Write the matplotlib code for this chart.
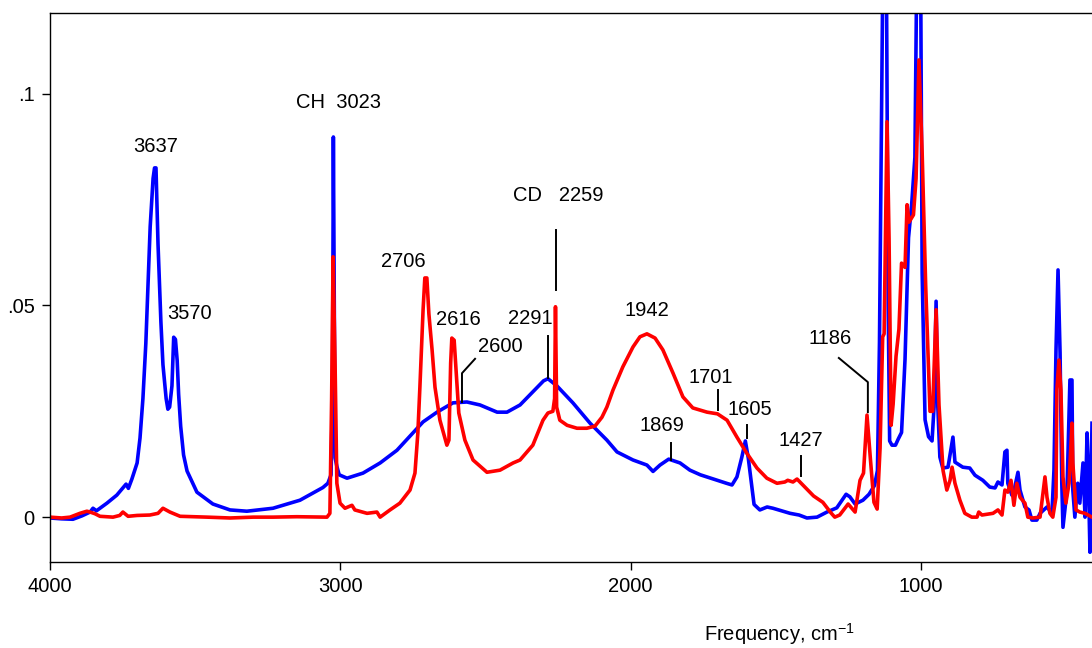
import matplotlib
matplotlib.use('Agg')
import matplotlib.pyplot as plt

# blue spectrum (frequency in cm-1, absorbance)
blue_freq = [4000, 3960, 3921, 3890, 3862, 3852, 3840, 3804, 3770, 3749, 3738, 3730, 3718, 3700,
             3690, 3680, 3670, 3662, 3655, 3645, 3640, 3635, 3628, 3618, 3611, 3600, 3594, 3588,
             3580, 3574, 3568, 3562, 3557, 3550, 3540, 3528, 3494, 3439, 3380, 3322, 3232, 3139,
             3094, 3060, 3043, 3032, 3027, 3024, 3021, 3018, 3012, 3004, 2977, 2922, 2863, 2805,
             2750, 2715, 2667, 2612, 2564, 2519, 2460, 2426, 2381, 2337, 2300, 2285, 2254, 2199,
             2140, 2082, 2047, 1992, 1944, 1923, 1899, 1869, 1830, 1796, 1760, 1737, 1715, 1693,
             1670, 1651, 1634, 1617, 1605, 1595, 1586, 1575, 1555, 1530, 1510, 1480, 1451, 1420,
             1393, 1358, 1324, 1290, 1258, 1245, 1227, 1200, 1179, 1160, 1150, 1143, 1136, 1130,
             1120, 1113, 1108, 1100, 1088, 1078, 1067, 1055, 1043, 1032, 1021, 1013, 1002, 996,
             986, 974, 962, 955, 948, 942, 935, 925, 907, 890, 883, 856, 832, 814, 787, 763, 745,
             735, 721, 711, 704, 701, 687, 677, 666, 659, 642, 628, 618, 601, 590, 566, 549, 542,
             535, 528, 521, 515, 511, 497, 487, 480, 477, 470, 460, 453, 442, 435, 428, 425, 418, 411]
blue_abs = [-0.0002, -0.0004, -0.0005, 0.0003, 0.0012, 0.0021, 0.0015, 0.0033, 0.0052, 0.0069,
            0.0078, 0.0068, 0.0090, 0.0128, 0.0187, 0.0280, 0.0410, 0.0558, 0.0686, 0.0800, 0.0825,
            0.0825, 0.0645, 0.0460, 0.0360, 0.0280, 0.0255, 0.0260, 0.0310, 0.0425, 0.0420, 0.0370,
            0.0290, 0.0215, 0.0147, 0.0109, 0.0059, 0.0031, 0.0017, 0.0014, 0.0021, 0.0040, 0.0057,
            0.0070, 0.0080, 0.0100, 0.0300, 0.0898, 0.0500, 0.0140, 0.0120, 0.0100, 0.0092, 0.0104,
            0.0128, 0.0158, 0.0199, 0.0225, 0.0248, 0.0270, 0.0272, 0.0265, 0.0248, 0.0248, 0.0265,
            0.0296, 0.0322, 0.0327, 0.0310, 0.0270, 0.0222, 0.0182, 0.0154, 0.0135, 0.0123, 0.0108,
            0.0123, 0.0137, 0.0128, 0.0111, 0.0100, 0.0095, 0.0090, 0.0085, 0.0080, 0.0076, 0.0095,
            0.0142, 0.0180, 0.0140, 0.0090, 0.0030, 0.0017, 0.0024, 0.0021, 0.0015, 0.0009, 0.0005,
            -0.0002, 0.0000, 0.0012, 0.0022, 0.0054, 0.0048, 0.0031, 0.0040, 0.0054, 0.0075, 0.0110,
            0.0414, 0.0940, 0.1400, 0.1400, 0.0500, 0.0180, 0.0170, 0.0170, 0.0185, 0.0200, 0.0373,
            0.0660, 0.0740, 0.0850, 0.1400, 0.1400, 0.0577, 0.0230, 0.0190, 0.0180, 0.0260, 0.0510,
            0.0260, 0.0142, 0.0116, 0.0118, 0.0189, 0.0130, 0.0118, 0.0116, 0.0099, 0.0087, 0.0071,
            0.0069, 0.0083, 0.0076, 0.0154, 0.0158, 0.0080, 0.0052, 0.0071, 0.0106, 0.0064, 0.0024,
            0.0017, -0.0007, -0.0007, 0.0009, 0.0024, 0.0009, 0.0111, 0.0395, 0.0584, 0.0388, 0.0080,
            -0.0024, 0.0064, 0.0324, 0.0324, 0.0064, 0.0000, 0.0080, 0.0033, 0.0128, 0.0000, 0.0199,
            0.0142, -0.0083, 0.0222]

# red spectrum (frequency in cm-1, absorbance)
red_freq = [4000, 3960, 3931, 3897, 3873, 3862, 3845, 3828, 3783, 3760, 3749, 3731, 3700, 3656,
            3628, 3611, 3600, 3587, 3552, 3459, 3380, 3300, 3232, 3150, 3046, 3036, 3030, 3025,
            3018, 3012, 3001, 2984, 2960, 2950, 2908, 2874, 2863, 2829, 2795, 2760, 2743, 2733,
            2726, 2715, 2709, 2702, 2695, 2684, 2674, 2657, 2633, 2626, 2620, 2616, 2608, 2600,
            2592, 2571, 2543, 2495, 2450, 2405, 2381, 2337, 2302, 2285, 2268, 2262, 2259, 2255,
            2244, 2219, 2185, 2151, 2123, 2099, 2082, 2061, 2027, 1992, 1968, 1944, 1916, 1889,
            1854, 1820, 1786, 1737, 1701, 1668, 1634, 1600, 1565, 1531, 1496, 1469, 1459, 1441,
            1427, 1400, 1370, 1338, 1310, 1297, 1280, 1251, 1227, 1210, 1198, 1186, 1174, 1162,
            1151, 1141, 1132, 1127, 1117, 1110, 1103, 1096, 1086, 1076, 1067, 1055, 1048, 1041,
            1026, 1017, 1007, 996, 984, 969, 960, 948, 938, 924, 911, 900, 893, 883, 866, 849, 825,
            807, 801, 790, 752, 735, 721, 711, 701, 690, 680, 670, 659, 642, 632, 615, 590, 584,
            573, 566, 556, 546, 535, 532, 525, 518, 511, 501, 490, 480, 477, 466, 453, 435, 411]
red_abs = [0.0000, -0.0002, 0.0000, 0.0009, 0.0014, 0.0012, 0.0008, 0.0002, 0.0000, 0.0004, 0.0012,
           0.0002, 0.0004, 0.0005, 0.0009, 0.0021, 0.0017, 0.0012, 0.0002, 0.0000, -0.0002, 0.0000,
           0.0000, 0.0001, 0.0000, 0.0009, 0.0280, 0.0615, 0.0355, 0.0080, 0.0033, 0.0021, 0.0028,
           0.0017, 0.0009, 0.0012, 0.0000, 0.0017, 0.0033, 0.0064, 0.0104, 0.0199, 0.0307, 0.0490,
           0.0565, 0.0565, 0.0480, 0.0395, 0.0307, 0.0229, 0.0170, 0.0182, 0.0364, 0.0423, 0.0418,
           0.0331, 0.0246, 0.0182, 0.0135, 0.0106, 0.0111, 0.0128, 0.0135, 0.0170, 0.0229, 0.0246,
           0.0250, 0.0280, 0.0497, 0.0260, 0.0229, 0.0217, 0.0210, 0.0210, 0.0215, 0.0236, 0.0260,
           0.0300, 0.0355, 0.0402, 0.0426, 0.0433, 0.0423, 0.0395, 0.0340, 0.0284, 0.0258, 0.0248,
           0.0244, 0.0229, 0.0189, 0.0151, 0.0116, 0.0092, 0.0080, 0.0083, 0.0087, 0.0083, 0.0090,
           0.0071, 0.0050, 0.0035, 0.0010, 0.0000, 0.0005, 0.0031, 0.0012, 0.0087, 0.0104, 0.0241,
           0.0135, 0.0035, 0.0019, 0.0163, 0.0426, 0.0433, 0.0934, 0.0657, 0.0217, 0.0267, 0.0380,
           0.0444, 0.0600, 0.0590, 0.0738, 0.0697, 0.0714, 0.0800, 0.1080, 0.0860, 0.0550, 0.0250,
           0.0250, 0.0490, 0.0265, 0.0110, 0.0064, 0.0087, 0.0118, 0.0080, 0.0040, 0.0009, 0.0000,
           0.0000, 0.0012, 0.0005, 0.0009, 0.0017, 0.0005, 0.0064, 0.0059, 0.0087, 0.0028, 0.0080,
           0.0047, 0.0033, 0.0000, -0.0002, 0.0000, 0.0033, 0.0095, 0.0047, 0.0009, 0.0000, 0.0047,
           0.0300, 0.0371, 0.0300, 0.0095, 0.0033, 0.0080, 0.0222, 0.0128, 0.0017, 0.0012, 0.0009,
           0.0000]

# peak labels: text, x, y (data coordinates)
label_texts = ['3637', '3570', 'CH  3023', 'CD   2259', '2706', '2616', '2600', '2291',
               '1942', '1701', '1869', '1605', '1427', '1186']
label_x = [3637, 3518, 3008, 2250, 2784, 2595, 2450, 2347, 1944, 1724, 1892, 1589, 1414, 1314]
label_y = [0.0875, 0.0482, 0.0979, 0.0759, 0.0603, 0.0468, 0.0404, 0.0470, 0.0489, 0.0329,
           0.0217, 0.0255, 0.0182, 0.0423]

# leader lines (polylines in data coordinates)
leader_x = [[2257, 2257], [2581, 2581, 2536], [2285, 2285], [1700, 1700], [1861, 1861],
            [1600, 1600], [1414, 1414], [1283, 1183, 1183]]
leader_y = [[0.0678, 0.0537], [0.0272, 0.0340, 0.0374], [0.0329, 0.0428], [0.0253, 0.0300],
            [0.0135, 0.0175], [0.0187, 0.0217], [0.0097, 0.0144], [0.0376, 0.0319, 0.0248]]

x_ticks = [4000, 3000, 2000, 1000]
y_ticks = [0, 0.05, 0.1]
y_tick_labels = ['0', '.05', '.1']

FONT_SIZE = 14.5


def setup_axes():
    '''
    Creates figure and axes with the frame of the original plot
    '''
    plt.rcParams['font.family'] = ['Liberation Sans', 'DejaVu Sans']
    fig = plt.figure(figsize=(10.92, 6.48), dpi=100)
    ax = fig.add_axes([0.0458, 0.1327, 0.9542, 0.8473])
    ax.set_xlim(4000, 411)
    ax.set_ylim(-0.0106, 0.1191)
    ax.spines['right'].set_visible(False)
    for side in ['left', 'bottom', 'top']:
        ax.spines[side].set_linewidth(1.0)
    ax.set_xticks(x_ticks)
    ax.set_xticklabels([str(t) for t in x_ticks])
    ax.set_yticks(y_ticks)
    ax.set_yticklabels(y_tick_labels)
    ax.tick_params(direction='out', length=6, width=1, labelsize=FONT_SIZE, pad=5)
    return fig, ax


def draw_spectra(ax):
    '''
    Draws both spectra, red one on top
    '''
    ax.plot(blue_freq, blue_abs, color='#0000ff', lw=2.6, solid_joinstyle='round')
    ax.plot(red_freq, red_abs, color='#ff0000', lw=2.6, solid_joinstyle='round')


def draw_labels(ax):
    '''
    Peak labels and the black leader lines
    '''
    for text, x, y in zip(label_texts, label_x, label_y):
        ax.text(x, y, text, fontsize=FONT_SIZE, ha='center', va='center')
    for xs, ys in zip(leader_x, leader_y):
        ax.plot(xs, ys, color='black', lw=1.4)


def main():
    fig, ax = setup_axes()
    draw_spectra(ax)
    draw_labels(ax)
    fig.text(0.714, 0.022, 'Frequency, cm$^{\\mathregular{-1}}$', fontsize=FONT_SIZE,
             ha='center', va='center')
    fig.savefig('out.png', dpi=100)


if __name__ == "__main__":
    main()
